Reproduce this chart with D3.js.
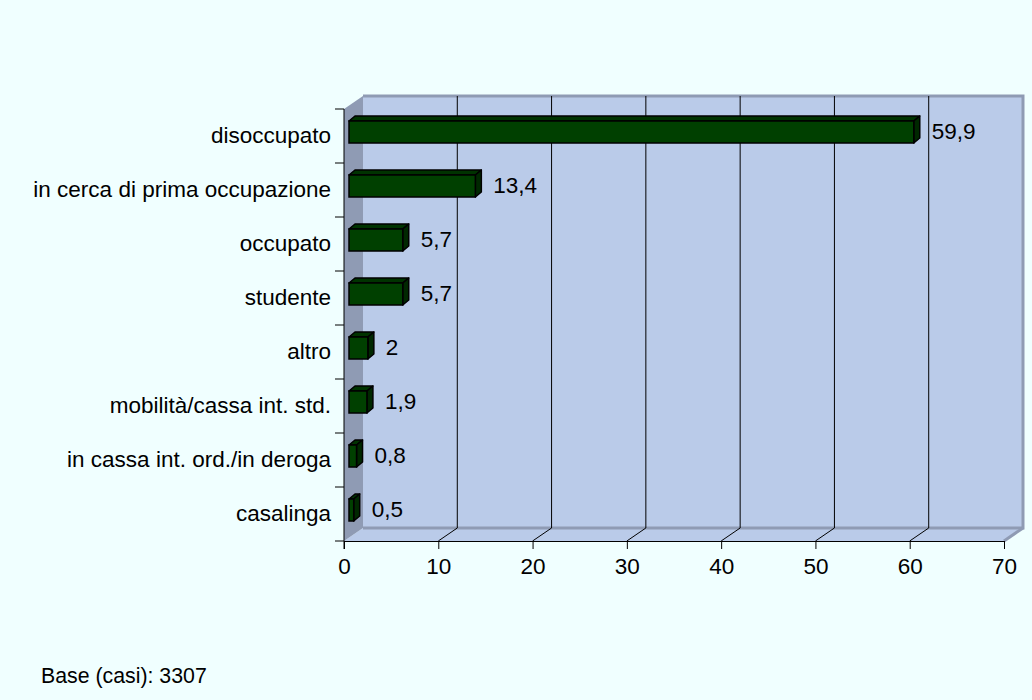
<!DOCTYPE html>
<html>
<head>
<meta charset="utf-8">
<script src="https://cdnjs.cloudflare.com/ajax/libs/d3/7.8.5/d3.min.js"></script>
<style>
    body { margin: 0; background: #f0ffff; }
    svg { display: block; }
    text { font-family: "Liberation Sans", Arial, sans-serif; fill: #000; }
</style>
</head>
<body>
<div class="chart"></div>
<script>
// categories from top to bottom
var categories = ["disoccupato", "in cerca di prima occupazione", "occupato", "studente",
                  "altro", "mobilità/cassa int. std.", "in cassa int. ord./in deroga", "casalinga"];
// percentages
var values = [59.9, 13.4, 5.7, 5.7, 2, 1.9, 0.8, 0.5];
// x axis ticks
var xTicks = [0, 10, 20, 30, 40, 50, 60, 70];
var baseNote = "Base (casi): 3307";

// makes the 3d horizontal bar chart
function barChart3d() {
    const width = 1032, height = 700;
    const margin = {top: 109, bottom: 159, left: 344, right: 28};
    // depth of the back wall
    const depth = {x: 19, y: -13};
    const fontSize = 22.5;

    const svg = d3.select(".chart")
                  .append("svg")
                  .attr("width", width)
                  .attr("height", height);

    svg.append("rect")
       .attr("width", width)
       .attr("height", height)
       .attr("fill", "#f0ffff");

    var data = [];
    for (var i = 0; i < categories.length; i++) {
        data.push({name: categories[i], value: values[i]});
    }

    // scales for the front plane
    var xScale = d3.scaleLinear()
                   .domain([0, 70])
                   .range([margin.left, width - margin.right]);

    var yScale = d3.scaleBand()
                   .domain(categories)
                   .range([margin.top, height - margin.bottom]);

    var x0 = xScale(0), x1 = xScale(70);
    var yTop = margin.top, yBot = height - margin.bottom;

    // back wall
    svg.append("rect")
       .attr("x", x0 + depth.x)
       .attr("y", yTop + depth.y)
       .attr("width", x1 - x0)
       .attr("height", yBot - yTop)
       .attr("fill", "#bacbe9");

    // floor
    svg.append("polygon")
       .attr("points", [[x0, yBot], [x1, yBot], [x1 + depth.x, yBot + depth.y], [x0 + depth.x, yBot + depth.y]].join(" "))
       .attr("fill", "#bacbe9");

    // left wall
    svg.append("polygon")
       .attr("points", [[x0, yTop], [x0 + depth.x, yTop + depth.y], [x0 + depth.x, yBot + depth.y], [x0, yBot]].join(" "))
       .attr("fill", "#8f9bb4");

    // wall edges
    svg.append("path")
       .attr("d", "M" + (x0 + depth.x) + "," + (yBot + depth.y) +
                  "L" + (x1 + depth.x) + "," + (yBot + depth.y) +
                  "L" + (x1 + depth.x) + "," + (yTop + depth.y) +
                  "L" + (x0 + depth.x) + "," + (yTop + depth.y))
       .attr("fill", "none")
       .attr("stroke", "#8f9bb4")
       .attr("stroke-width", 3);

    svg.append("line")
       .attr("x1", x1).attr("y1", yBot)
       .attr("x2", x1 + depth.x).attr("y2", yBot + depth.y)
       .attr("stroke", "#8f9bb4")
       .attr("stroke-width", 3);

    // gridlines on the back wall
    svg.selectAll(".grid")
       .data(xTicks.slice(1, -1))
       .enter().append("line")
       .attr("class", "grid")
       .attr("x1", d => xScale(d) + depth.x)
       .attr("x2", d => xScale(d) + depth.x)
       .attr("y1", yTop + depth.y)
       .attr("y2", yBot + depth.y)
       .attr("stroke", "#000")
       .attr("stroke-width", 1);

    // diagonal lines on the floor
    svg.selectAll(".floorLine")
       .data(xTicks.slice(1, -1))
       .enter().append("line")
       .attr("class", "floorLine")
       .attr("x1", d => xScale(d))
       .attr("x2", d => xScale(d) + depth.x)
       .attr("y1", yBot)
       .attr("y2", yBot + depth.y)
       .attr("stroke", "#000")
       .attr("stroke-width", 1);

    // bars
    const barOff = {x: 5, y: -4};
    const barDepth = {x: 6, y: -5};
    const barH = 22;

    var barGroup = svg.selectAll(".barGroup")
                      .data(data)
                      .enter().append("g")
                      .attr("class", "barGroup");

    function fx(d) { return xScale(0) + barOff.x; }
    function fw(d) { return xScale(d.value) - xScale(0); }
    function fy(d) { return yScale(d.name) + yScale.bandwidth() / 2 + barOff.y - barH / 2; }

    // top face
    barGroup.append("polygon")
            .attr("points", d => {
                var a = fx(d), b = fx(d) + fw(d), y = fy(d);
                return [[a, y], [a + barDepth.x, y + barDepth.y], [b + barDepth.x, y + barDepth.y], [b, y]].join(" ");
            })
            .attr("fill", "#003300")
            .attr("stroke", "#000")
            .attr("stroke-width", 1.5)
            .attr("stroke-linejoin", "round");

    // side face
    barGroup.append("polygon")
            .attr("points", d => {
                var b = fx(d) + fw(d), y = fy(d);
                return [[b, y], [b + barDepth.x, y + barDepth.y], [b + barDepth.x, y + barDepth.y + barH], [b, y + barH]].join(" ");
            })
            .attr("fill", "#002800")
            .attr("stroke", "#000")
            .attr("stroke-width", 1.5)
            .attr("stroke-linejoin", "round");

    // front face
    barGroup.append("rect")
            .attr("x", fx)
            .attr("y", fy)
            .attr("width", fw)
            .attr("height", barH)
            .attr("fill", "#004000")
            .attr("stroke", "#000")
            .attr("stroke-width", 1.5);

    // value labels
    barGroup.append("text")
            .attr("x", d => xScale(d.value) + 23)
            .attr("y", d => yScale(d.name) + yScale.bandwidth() / 2 - 5)
            .attr("dy", "0.35em")
            .attr("font-size", fontSize)
            .text(d => String(d.value).replace(".", ","));

    // x axis
    const xAxis = d3.axisBottom()
                    .scale(xScale)
                    .tickValues(xTicks)
                    .tickSize(8)
                    .tickPadding(9)
                    .tickFormat(d3.format("d"));

    var gx = svg.append("g")
                .attr("transform", "translate(0," + yBot + ")")
                .call(xAxis);
    gx.selectAll("text").attr("font-size", fontSize).attr("font-family", null);
    gx.select(".domain").attr("stroke", "#000");

    // y axis labels
    const yAxis = d3.axisLeft()
                    .scale(yScale)
                    .tickSize(0)
                    .tickPadding(13);

    var gy = svg.append("g")
                .attr("transform", "translate(" + x0 + ",0)")
                .call(yAxis);
    gy.select(".domain").remove();
    gy.selectAll("text").attr("font-size", fontSize).attr("font-family", null);

    // left axis line and category boundaries
    svg.append("line")
       .attr("x1", x0).attr("x2", x0)
       .attr("y1", yTop).attr("y2", yBot + 8)
       .attr("stroke", "#000");

    var bounds = categories.map(c => yScale(c)).concat([yBot]);
    svg.selectAll(".catTick")
       .data(bounds)
       .enter().append("line")
       .attr("class", "catTick")
       .attr("x1", x0 - 9).attr("x2", x0)
       .attr("y1", d => d).attr("y2", d => d)
       .attr("stroke", "#000");

    // note
    svg.append("text")
       .attr("x", 41)
       .attr("y", 683)
       .attr("font-size", 21.3)
       .text(baseNote);
}

barChart3d();
</script>
</body>
</html>
